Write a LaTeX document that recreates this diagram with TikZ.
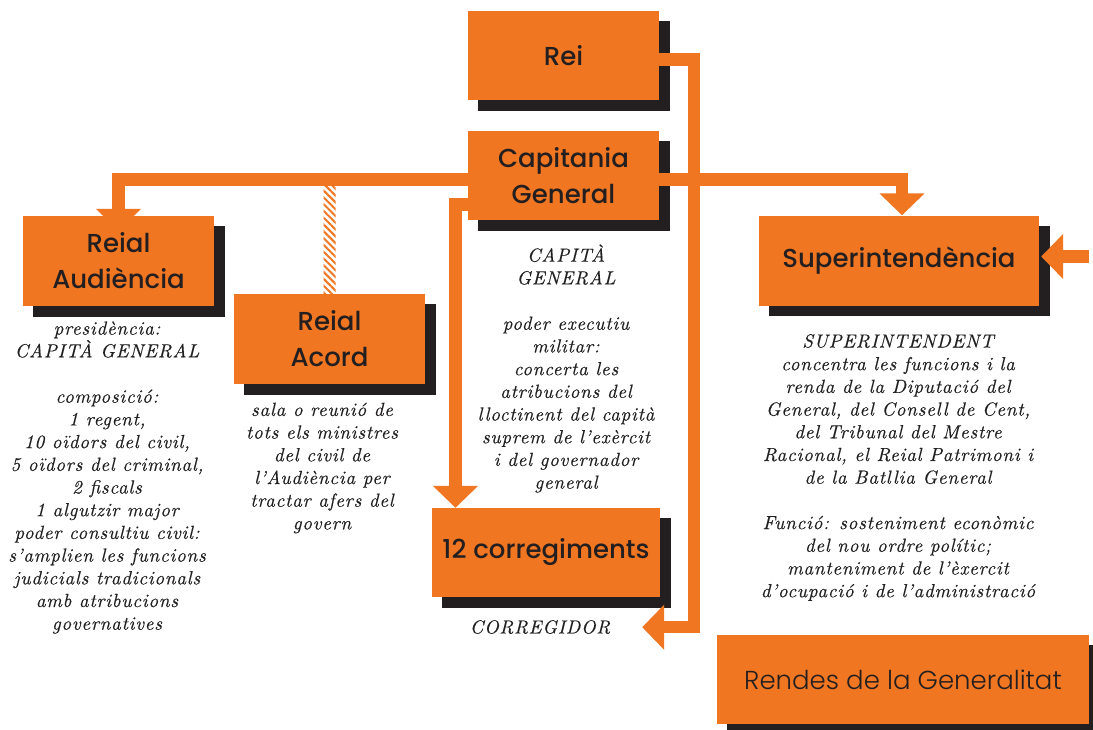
\documentclass[tikz,border=0pt]{standalone}
\usepackage{fontspec}
\usetikzlibrary{arrows.meta,patterns.meta}
\definecolor{org}{HTML}{F07622}
\definecolor{shd}{HTML}{231F20}
\definecolor{txt}{HTML}{222020}
\newfontfamily\boxfont{Poppins}[UprightFont=* Medium]
\newfontfamily\lightfont{Poppins}[UprightFont=* Light]
\newfontfamily\notefont{lmroman10}[Extension=.otf,UprightFont=*-regular,ItalicFont=*-italic,LetterSpace=4,FakeBold=0.3]
\pgfdeclarelayer{shadowlayer}
\pgfdeclarelayer{connlayer}
\pgfsetlayers{shadowlayer,connlayer,main}
\tikzset{
  box/.style={fill=org, inner sep=0pt, text=shd, align=center, font=\boxfont\fontsize{26}{36}\selectfont},
  lightbox/.style={box, font=\lightfont\fontsize{26}{30}\selectfont},
  note/.style={text=txt, align=center, inner sep=0pt, font=\notefont\itshape\fontsize{19}{22.7}\selectfont},
  conn/.style={draw=org, line width=12.5pt, line join=miter},
  Big/.tip={Triangle[width=44pt,length=22pt]}
}
\begin{document}
\begin{tikzpicture}[x=1pt,y=-1pt]
\useasboundingbox (0,0) rectangle (1093,729);
% boxes
\node[box, minimum width=191pt, minimum height=89pt] (rei) at (563.5,55.5) {Rei};
\node[box, minimum width=191pt, minimum height=89pt] (cg) at (563.5,175.5) {Capitania\\General};
\node[box, minimum width=191pt, minimum height=90pt] (ra) at (118.5,261) {Reial\\Audiència};
\node[box, minimum width=191pt, minimum height=90pt] (rac) at (329.5,339) {Reial\\Acord};
\node[box, minimum width=228pt, minimum height=89pt] (c12) at (546,552.5) {12 corregiments};
\node[box, minimum width=280pt, minimum height=90pt] (si) at (899,260.5) {Superintendència};
\node[lightbox, minimum width=372pt, minimum height=89pt] (rg) at (903,679.5) {Rendes de la Generalitat};
% shadows
\begin{pgfonlayer}{shadowlayer}
\foreach \n in {rei,cg,ra,rac,c12,si,rg}
  \fill[shd] ([shift={(10.5,10.5)}]\n.north west) rectangle ([shift={(10.5,10.5)}]\n.south east);
\end{pgfonlayer}
% connectors
\begin{pgfonlayer}{connlayer}
\coordinate (bar) at (0,179.5);
\coordinate (sitop) at ([xshift=3pt]si.north);
\coordinate (hatchtop) at (rac.north |- bar);
\coordinate (rv) at ([xshift=35pt,yshift=-4pt]rei.east);
\coordinate (ctip) at ([xshift=-18pt,yshift=-30pt]c12.south east);
\draw[conn, {Big}-{Big}] ([yshift=-15pt]ra.north) -- (ra.north |- bar) -- (sitop |- bar) -- (sitop);
\fill[pattern={Lines[angle=-45,distance=4.8pt,line width=2pt]}, pattern color=org]
  ([shift={(-6,6)}]hatchtop) rectangle ([xshift=6pt]rac.north);
\draw[conn, -{Big}] ([yshift=-29pt]cg.west) -| ([xshift=-90.5pt]c12.north);
\draw[conn, -{Big}] ([yshift=-4pt]rei.east) -- (rv) |- (ctip);
\draw[conn, -{Big}] ([xshift=50pt,yshift=4pt]si.east) -- ([xshift=2pt,yshift=4pt]si.east);
\end{pgfonlayer}
% notes
\node[note] (nra) at (107,477.5) {presidència:\\CAPITÀ GENERAL\\[22.7pt]composició:\\1 regent,\\10 oïdors del civil,\\5 oïdors del criminal,\\2 fiscals\\1 algutzir major\\poder consultiu civil:\\s’amplien les funcions\\judicials tradicionals\\amb atribucions\\governatives};
\node[note] (nrac) at (322,468) {sala o reunió de\\tots els ministres\\del civil de\\l’Audiència per\\tractar afers del\\govern};
\node[note] (ncg) at (566,368.5) {CAPITÀ\\GENERAL\\[22.7pt]poder executiu\\militar:\\concerta les\\atribucions del\\lloctinent del capità\\suprem de l’exèrcit\\i del governador\\general};
\node[note] (nsi) at (898,467.5) {SUPERINTENDENT\\concentra les funcions i la\\renda de la Diputació del\\General, del Consell de Cent,\\del Tribunal del Mestre\\Racional, el Reial Patrimoni i\\de la Batllia General\\[22.7pt]Funció: sosteniment econòmic\\del nou ordre polític;\\manteniment de l’èxercit\\d’ocupació i de l’administració};
\node[note] (nc12) at (540,627) {CORREGIDOR};
\end{tikzpicture}
\end{document}
